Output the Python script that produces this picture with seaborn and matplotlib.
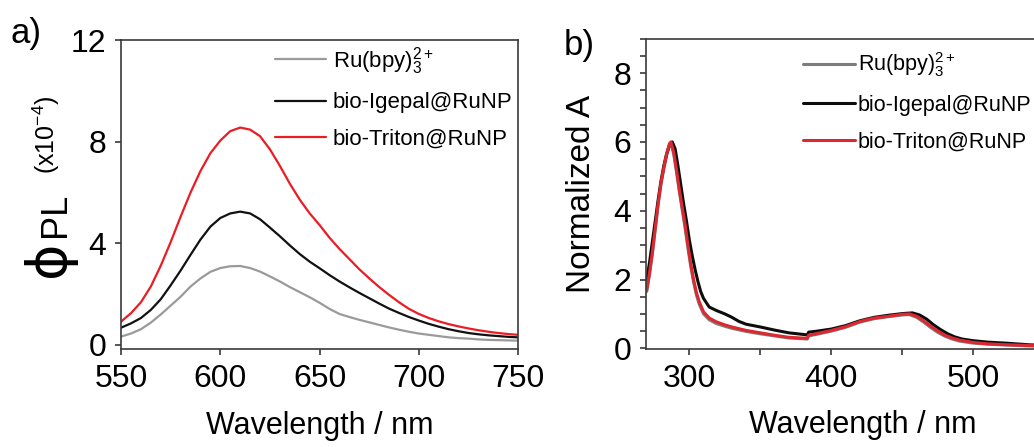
import numpy as np
import pandas as pd
import matplotlib
matplotlib.use("Agg")
import matplotlib.pyplot as plt
from matplotlib.ticker import MultipleLocator
from matplotlib import font_manager
import seaborn as sns

# ---------------- panel a: photoluminescence quantum yield ----------------
pl_wavelength = [550, 555, 560, 565, 570, 575, 580, 585, 590, 595, 600, 605, 610, 615,
                 620, 625, 630, 635, 640, 645, 650, 655, 660, 665, 670, 675, 680, 685,
                 690, 695, 700, 705, 710, 715, 720, 725, 730, 735, 740, 745, 750]
pl_ru = [0.33, 0.45, 0.62, 0.88, 1.20, 1.55, 1.90, 2.30, 2.62, 2.88, 3.03, 3.10, 3.11, 3.03,
         2.89, 2.70, 2.50, 2.28, 2.08, 1.88, 1.66, 1.42, 1.22, 1.10, 0.99, 0.89, 0.79, 0.69,
         0.60, 0.52, 0.45, 0.40, 0.35, 0.30, 0.27, 0.25, 0.22, 0.20, 0.19, 0.18, 0.17]
pl_igepal = [0.68, 0.85, 1.06, 1.38, 1.80, 2.35, 2.93, 3.55, 4.15, 4.66, 5.00, 5.18, 5.25, 5.18,
             4.95, 4.62, 4.28, 3.92, 3.58, 3.28, 3.02, 2.75, 2.50, 2.27, 2.05, 1.84, 1.63, 1.43,
             1.26, 1.10, 0.96, 0.83, 0.72, 0.62, 0.54, 0.47, 0.42, 0.38, 0.35, 0.32, 0.30]
pl_triton = [0.92, 1.25, 1.68, 2.30, 3.12, 4.05, 5.05, 6.00, 6.85, 7.55, 8.05, 8.42, 8.56, 8.48,
             8.22, 7.70, 7.05, 6.35, 5.72, 5.18, 4.72, 4.22, 3.78, 3.38, 2.98, 2.62, 2.28, 1.97,
             1.68, 1.42, 1.22, 1.06, 0.93, 0.82, 0.73, 0.65, 0.58, 0.52, 0.47, 0.43, 0.40]

# ---------------- panel b: normalized absorbance ----------------
abs_wavelength_ru = [270, 272, 274, 276, 278, 280, 282, 284, 286, 287, 289, 291, 293, 295, 297,
                     299, 301, 303, 305, 307, 310, 314, 319, 325, 330, 340, 350, 360, 370, 383,
                     384, 390, 400, 410, 420, 430, 440, 450, 455, 460, 465, 470, 475, 480, 485,
                     490, 500, 510, 520, 540, 560, 575]
abs_ru = [1.65, 2.15, 2.75, 3.45, 4.15, 4.75, 5.2, 5.6, 5.92, 5.97, 5.65, 5.12, 4.55, 4.02, 3.5,
          2.92, 2.38, 1.92, 1.55, 1.28, 1.0, 0.83, 0.72, 0.64, 0.58, 0.49, 0.42, 0.36, 0.30, 0.27,
          0.36, 0.41, 0.50, 0.61, 0.76, 0.86, 0.92, 0.97, 0.98, 0.90, 0.76, 0.60, 0.46, 0.35, 0.27,
          0.21, 0.15, 0.12, 0.10, 0.07, 0.05, 0.04]
abs_wavelength_igepal = [270, 272, 274, 276, 278, 280, 282, 284, 286, 288, 290, 292, 294, 296, 298,
                         300, 302, 304, 306, 308, 310, 314, 319, 325, 330, 335, 340, 350, 360, 370,
                         383, 384, 390, 400, 410, 420, 430, 440, 450, 457, 462, 467, 472, 477, 482,
                         487, 492, 500, 510, 523, 540, 560, 575]
abs_igepal = [2.0, 2.5, 3.1, 3.7, 4.3, 4.85, 5.3, 5.65, 5.9, 6.0, 5.8, 5.3, 4.75, 4.2, 3.7,
              3.15, 2.7, 2.3, 1.95, 1.65, 1.45, 1.2, 1.1, 1.0, 0.9, 0.78, 0.7, 0.62, 0.53, 0.45,
              0.39, 0.47, 0.5, 0.56, 0.66, 0.8, 0.9, 0.96, 1.01, 1.03, 0.97, 0.85, 0.68, 0.54, 0.42,
              0.33, 0.27, 0.22, 0.18, 0.15, 0.10, 0.08, 0.06]
abs_wavelength_triton = [270, 272, 274, 276, 278, 280, 282, 284, 286, 287, 289, 291, 293, 295, 297,
                         299, 301, 303, 305, 307, 310, 314, 319, 325, 330, 340, 350, 360, 370, 383,
                         384, 390, 400, 410, 420, 430, 440, 450, 455, 460, 465, 470, 475, 480, 485,
                         490, 500, 510, 520, 540, 560, 575]
abs_triton = [1.7, 2.2, 2.8, 3.5, 4.2, 4.8, 5.25, 5.65, 5.95, 6.0, 5.7, 5.18, 4.6, 4.1, 3.6,
              3.0, 2.45, 2.0, 1.62, 1.35, 1.06, 0.88, 0.77, 0.68, 0.62, 0.52, 0.45, 0.38, 0.32, 0.29,
              0.38, 0.43, 0.52, 0.63, 0.78, 0.88, 0.93, 0.99, 1.0, 0.93, 0.80, 0.64, 0.50, 0.38, 0.30,
              0.24, 0.17, 0.13, 0.11, 0.08, 0.06, 0.05]

labels = [r"Ru(bpy)$_3^{2+}$", "bio-Igepal@RuNP", "bio-Triton@RuNP"]

sns.set_theme(style="ticks")
plt.rcParams["font.family"] = ["Liberation Sans", "DejaVu Sans"]
plt.rcParams["mathtext.fontset"] = "custom"
plt.rcParams["mathtext.rm"] = "Liberation Sans"
plt.rcParams["mathtext.it"] = "Liberation Sans"
plt.rcParams["mathtext.default"] = "regular"
plt.rcParams["text.color"] = "black"
plt.rcParams["axes.labelcolor"] = "black"

# narrow face for the axis titles when available
installed = {f.name for f in font_manager.fontManager.ttflist}
narrow = "Liberation Sans Narrow" if "Liberation Sans Narrow" in installed else None
xlabel_kw = dict(family=[narrow, "DejaVu Sans"], fontsize=24) if narrow else dict(fontsize=22)

W, H = 1034, 447
fig = plt.figure(figsize=(W / 100, H / 100), dpi=100)
fig.patch.set_facecolor("white")


def px_axes(left, top, right, bottom):
    return [left / W, 1 - bottom / H, (right - left) / W, (bottom - top) / H]


ax_a = fig.add_axes(px_axes(121, 40.2, 518.3, 349.3))
ax_b = fig.add_axes(px_axes(646, 38.7, 1080, 349.0))

spine_color = "#3a3a3a"
for ax in (ax_a, ax_b):
    ax.set_facecolor("white")
    for s in ax.spines.values():
        s.set_color(spine_color)
        s.set_linewidth(1.2)
        s.set_visible(True)
    ax.tick_params(which="both", direction="out", length=4.5, width=1.2,
                   color=spine_color, labelsize=23, labelcolor="black", pad=6)

# panel a curves
colors_a = ["#9a9a9a", "#111111", "#ec1c24"]
series_a = [pl_ru, pl_igepal, pl_triton]
for vals, col, lab in zip(series_a, colors_a, labels):
    df = pd.DataFrame({"wavelength": pl_wavelength, "phi": vals})
    sns.lineplot(data=df, x="wavelength", y="phi", color=col, lw=1.6, label=lab,
                 ax=ax_a, sort=False, estimator=None)
ax_a.set_xlim(550, 750)
ax_a.set_ylim(-0.17, 12)
ax_a.xaxis.set_major_locator(MultipleLocator(50))
ax_a.yaxis.set_major_locator(MultipleLocator(4))
ax_a.set_xlabel("Wavelength / nm", labelpad=12, color="black", **xlabel_kw)
ax_a.set_ylabel("")
ax_a.legend(loc="upper left", bbox_to_anchor=(0.388, 0.985), frameon=False,
            fontsize=16, handlelength=2.3, handletextpad=0.3, labelspacing=0.7,
            borderpad=0, borderaxespad=0)

# panel b curves
colors_b = ["#7d7d7d", "#0d0d0d", "#dc2830"]
series_b = [(abs_wavelength_ru, abs_ru), (abs_wavelength_igepal, abs_igepal),
            (abs_wavelength_triton, abs_triton)]
for (wl, vals), col, lab in zip(series_b, colors_b, labels):
    df = pd.DataFrame({"wavelength": wl, "absorbance": vals})
    sns.lineplot(data=df, x="wavelength", y="absorbance", color=col, lw=2.2, label=lab,
                 ax=ax_b, sort=False, estimator=None)
ax_b.set_xlim(269.5, 575)
ax_b.set_ylim(-0.02, 9)
ax_b.xaxis.set_major_locator(MultipleLocator(100))
ax_b.xaxis.set_minor_locator(MultipleLocator(50))
ax_b.yaxis.set_major_locator(MultipleLocator(2))
ax_b.yaxis.set_minor_locator(MultipleLocator(0.5))
ax_b.set_xlabel("Wavelength / nm", labelpad=12, color="black", **xlabel_kw)
ax_b.set_ylabel("Normalized A", fontsize=24, labelpad=12, color="black")
ax_b.legend(loc="upper left", bbox_to_anchor=(0.362, 0.962), frameon=False,
            fontsize=15.5, handlelength=2.4, handletextpad=0.15, labelspacing=0.72,
            borderpad=0, borderaxespad=0)

# composite y label for panel a
def ftext(x, y, s, **kw):
    fig.text(x / W, 1 - y / H, s, **kw)

ftext(49, 259, "\u03d5", fontsize=40, rotation=90, ha="center", va="center",
      family=["DejaVu Sans"])
ftext(55, 215, "PL", fontsize=26, rotation=90, ha="center", va="center")
ftext(46, 135, r"(x10$^{-4}$)", fontsize=18, rotation=90, ha="center", va="center")

# panel tags
ftext(10, 43, "a)", fontsize=25, ha="left", va="baseline")
ftext(564, 55, "b)", fontsize=25, ha="left", va="baseline")

fig.savefig("out.png", dpi=100, facecolor="white")
